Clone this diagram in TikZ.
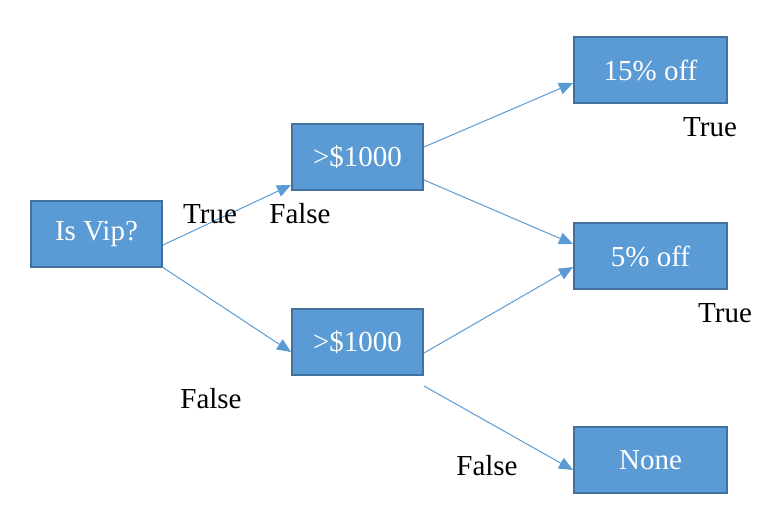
\documentclass[tikz,border=0pt]{standalone}
\usepackage{fontspec}
\setmainfont{Liberation Serif}
\usepackage{xcolor}
\usepackage{tikz}
\usetikzlibrary{arrows.meta}
\definecolor{boxblue}{HTML}{5B9BD5}
\definecolor{boxedge}{HTML}{41719C}
\tikzset{decision/.style ={draw=boxedge,fill=boxblue,line width=2pt,minimum width=131pt,minimum height=66pt,inner sep=0pt,text=white,font=\fontsize{29}{32}\selectfont}}
\tikzset{outcome/.style ={decision,minimum width=153pt}}
\tikzset{branch/.style ={draw=boxblue,line width=1pt,-{Triangle[length=14pt,width=12pt]}}}
\tikzset{answer/.style ={inner sep=0pt,font=\fontsize{29}{32}\selectfont}}

\begin{document}
\begin{tikzpicture}[x=1pt,y=-1pt]
{
\useasboundingbox (0,0) rectangle (778,514);
\node[decision] (isvip) at (96.5,233.5) {Is Vip?};
\node[decision] (overtop) at (357.5,157) {>\$1000};
\node[decision] (overbot) at (357.5,342) {>\$1000};
\node[outcome] (offbig) at (650.5,70) {15\% off};
\node[outcome] (offsmall) at (650.5,256) {5\% off};
\node[outcome] (nodisc) at (650.5,460) {None};
%\draw (isvip) -- (overtop);
\draw[branch] ([yshift=-11.5pt]isvip.east) -- ([yshift=6pt]overtop.south west);
\draw[branch] (isvip.south east) -- ([yshift=-10pt]overbot.west);
\draw[branch] ([yshift=10pt]overtop.east) -- ([yshift=-13pt]offbig.west);
\draw[branch] ([yshift=-23pt]overtop.east) -- ([yshift=12pt]offsmall.west);
\draw[branch] ([yshift=-11pt]overbot.east) -- ([yshift=-11pt]offsmall.west);
\draw[branch] ([yshift=-10pt]overbot.south east) -- ([yshift=-10pt]nodisc.west);
\node[answer] (vipyes) at (210,214) {True};
\node[answer] (topno) at (300,214) {False};
\node[answer] (vipno) at (211,399) {False};
\node[answer] (bigyes) at (710,127) {True};
\node[answer] (smallyes) at (725,313) {True};
\node[answer] (botno) at (487,466) {False};
}
\end{tikzpicture}
\end{document}
